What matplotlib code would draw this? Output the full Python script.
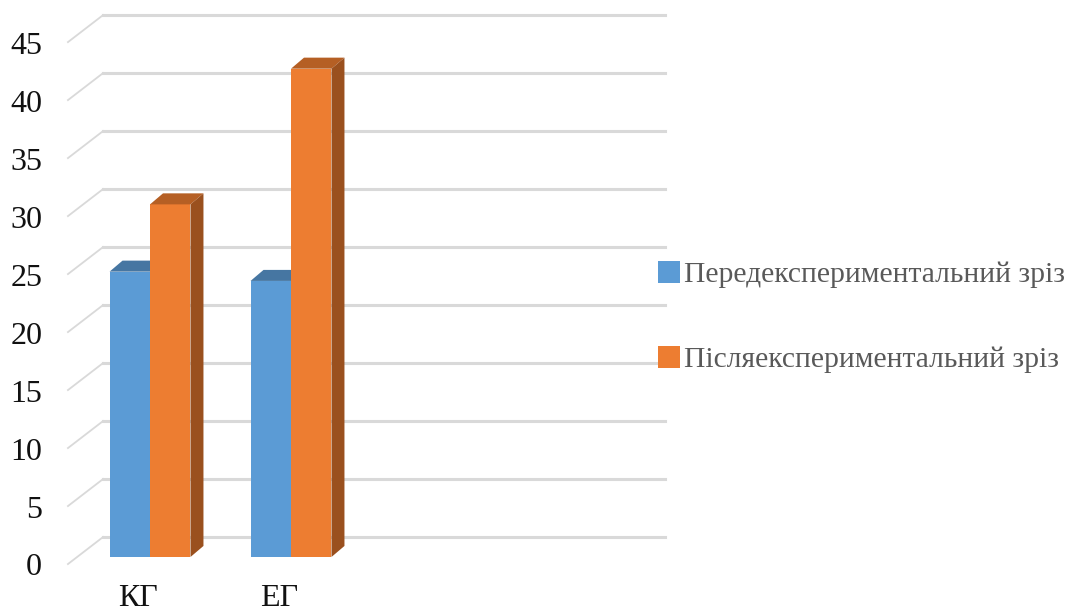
import matplotlib.pyplot as plt
from matplotlib.patches import Polygon

# Data
groups = ["КГ", "ЕГ"]
series_names = ["Передекспериментальний зріз", "Післяекспериментальний зріз"]
before = [24.6, 23.8]
after = [30.4, 42.1]
y_ticks = [0, 5, 10, 15, 20, 25, 30, 35, 40, 45]

front_colors = ["#5B9BD5", "#ED7D31"]
top_colors = ["#4676A2", "#B55F24"]
side_colors = ["#3F6B94", "#9A501E"]

plt.rcParams["font.family"] = ["Liberation Serif", "DejaVu Serif"]

fig = plt.figure(figsize=(10.84, 6.13), dpi=100)
ax = fig.add_axes([0, 0, 1, 1])
ax.set_xlim(-1.064, 6.624)
ax.set_ylim(-4.83, 48.02)
ax.axis("off")

# fake 3D depth (in data units)
dx, dy = 0.092, 0.95
back_dy = 1.72        # back wall offset
wall_x0, wall_x1 = -0.333, 3.652
diag_dx, diag_dy = 0.249, 2.33
grid_color = "#D9D9D9"

# Gridlines on the back wall and the diagonal side-wall lines
for v in y_ticks:
    yb = v + back_dy
    ax.plot([wall_x0, wall_x1], [yb, yb], color=grid_color, lw=2.2, zorder=1)
    ax.plot([wall_x0 - diag_dx, wall_x0], [yb - diag_dy, yb],
            color=grid_color, lw=1.3, zorder=1)
    ax.text(-0.765, v - 0.95, str(v), ha="right", va="center",
            fontsize=23, color="#111111")

# Bars
width = 0.287
x = list(range(len(groups)))
for s, vals in enumerate([before, after]):
    xs = [xi + (s - 0.5) * width for xi in x]
    bars = ax.bar(xs, vals, width=width, color=front_colors[s],
                  zorder=3 + 2 * s, label=series_names[s])
    for b in bars:
        x0 = b.get_x()
        x1 = x0 + b.get_width()
        h = b.get_height()
        top = Polygon([(x0, h), (x1, h), (x1 + dx, h + dy), (x0 + dx, h + dy)],
                      closed=True, color=top_colors[s], zorder=3 + 2 * s, lw=0)
        side = Polygon([(x1, 0), (x1 + dx, dy), (x1 + dx, h + dy), (x1, h)],
                       closed=True, color=side_colors[s], zorder=3 + 2 * s, lw=0)
        ax.add_patch(top)
        ax.add_patch(side)

# Category labels
for xi, g in zip(x, groups):
    ax.text(xi - 0.085, -3.55, g, ha="center", va="center",
            fontsize=23, color="#111111")

ax.legend(loc="center left", bbox_to_anchor=(646 / 1084, 1 - 317 / 613),
          frameon=False, fontsize=21.3, labelcolor="#595959",
          handlelength=0.75, handleheight=0.75, handletextpad=0.15,
          labelspacing=1.95, borderaxespad=0)

fig.savefig("out.png", dpi=100)
